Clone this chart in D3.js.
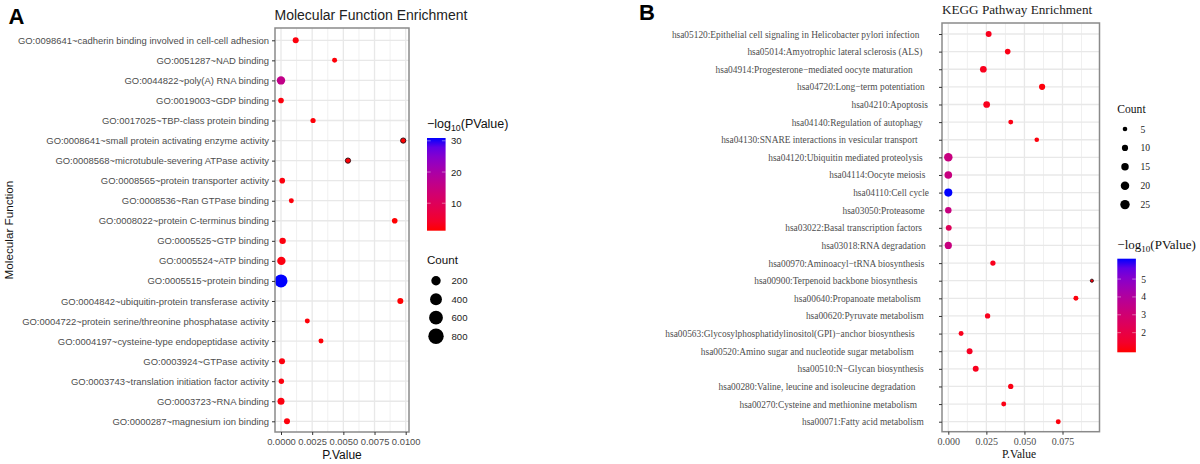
<!DOCTYPE html>
<html>
<head>
<meta charset="utf-8">
<script src="https://cdn.jsdelivr.net/npm/d3@7"></script>
<style>
  body { margin: 0; background: #fff; }
  svg { display: block; }
</style>
</head>
<body>
<div id="chart"></div>
<script>
// panel A: GO molecular function
var goTerms = [
  "GO:0098641~cadherin binding involved in cell-cell adhesion",
  "GO:0051287~NAD binding",
  "GO:0044822~poly(A) RNA binding",
  "GO:0019003~GDP binding",
  "GO:0017025~TBP-class protein binding",
  "GO:0008641~small protein activating enzyme activity",
  "GO:0008568~microtubule-severing ATPase activity",
  "GO:0008565~protein transporter activity",
  "GO:0008536~Ran GTPase binding",
  "GO:0008022~protein C-terminus binding",
  "GO:0005525~GTP binding",
  "GO:0005524~ATP binding",
  "GO:0005515~protein binding",
  "GO:0004842~ubiquitin-protein transferase activity",
  "GO:0004722~protein serine/threonine phosphatase activity",
  "GO:0004197~cysteine-type endopeptidase activity",
  "GO:0003924~GTPase activity",
  "GO:0003743~translation initiation factor activity",
  "GO:0003723~RNA binding",
  "GO:0000287~magnesium ion binding"
];
var goPValue = [0.00118, 0.0043, 0, 0, 0.00257, 0.0098, 0.00537, 0.0001, 0.00083, 0.00912,
                0.00013, 0.00003, 0, 0.00957, 0.00211, 0.00321, 0.00008, 0.00003, 0, 0.00048];
var goCount = [38, 14, 139, 27, 18, 20, 20, 27, 14, 27,
               50, 139, 512, 38, 14, 14, 38, 22, 72, 38];
var goLogP = [1.8, 1.6, 16, 1.9, 1.6, 1.3, 1.5, 1.9, 1.7, 1.3,
              1.9, 2, 30.9, 1.3, 1.6, 1.6, 1.9, 1.9, 2, 1.7];
var goTicks = [0, 0.0025, 0.005, 0.0075, 0.01];
var goColorTicks = [10, 20, 30];
var goSizeTicks = [200, 400, 600, 800];

// panel B: KEGG pathways
var keggTerms = [
  "hsa05120:Epithelial cell signaling in Helicobacter pylori infection",
  "hsa05014:Amyotrophic lateral sclerosis (ALS)",
  "hsa04914:Progesterone\u2212mediated oocyte maturation",
  "hsa04720:Long\u2212term potentiation",
  "hsa04210:Apoptosis",
  "hsa04140:Regulation of autophagy",
  "hsa04130:SNARE interactions in vesicular transport",
  "hsa04120:Ubiquitin mediated proteolysis",
  "hsa04114:Oocyte meiosis",
  "hsa04110:Cell cycle",
  "hsa03050:Proteasome",
  "hsa03022:Basal transcription factors",
  "hsa03018:RNA degradation",
  "hsa00970:Aminoacyl\u2212tRNA biosynthesis",
  "hsa00900:Terpenoid backbone biosynthesis",
  "hsa00640:Propanoate metabolism",
  "hsa00620:Pyruvate metabolism",
  "hsa00563:Glycosylphosphatidylinositol(GPI)\u2212anchor biosynthesis",
  "hsa00520:Amino sugar and nucleotide sugar metabolism",
  "hsa00510:N\u2212Glycan biosynthesis",
  "hsa00280:Valine, leucine and isoleucine degradation",
  "hsa00270:Cysteine and methionine metabolism",
  "hsa00071:Fatty acid metabolism"
];
var keggPValue = [0.0265, 0.039, 0.023, 0.0616, 0.0252, 0.041, 0.0581, 0, 0, 0,
                  0, 0.0003, 0, 0.0293, 0.0943, 0.0838, 0.0258, 0.0084, 0.014, 0.018,
                  0.041, 0.0364, 0.0722];
var keggCount = [9, 8, 12, 10, 12, 6, 5, 20, 16, 18,
                 11, 9, 14, 7, 2, 6, 7, 6, 9, 9,
                 7, 6, 6];
var keggLogP = [1.2, 1.1, 1.2, 1, 1.2, 1.1, 1, 3.3, 3.3, 6.14,
                3.3, 2.4, 3.3, 1.2, 1, 1, 1.2, 1.2, 1.3, 1.2,
                1.1, 1.1, 1];
var keggTicks = [0, 0.025, 0.05, 0.075];
var keggColorTicks = [2, 3, 4, 5];
var keggSizeTicks = [5, 10, 15, 20, 25];

var width = 1200, height = 464;
var svg = d3.select("#chart").append("svg").attr("width", width).attr("height", height);

var lab = d3.interpolateLab("#ff0000", "#0000ff");

// where each KEGG label ends, the reference labels are not flush with the axis
var keggLabelEnd = [919.3, 922.3, 912.7, 924.7, 928, 922.7, 917.7, 922.7, 925.3, 929, 924.7, 922,
                    925.7, 924.3, 917.3, 920.7, 923.7, 914.7, 913.7, 923.7, 915.3, 917, 923.7];

function dotPanel(cfg) {
  var x = d3.scaleLinear().domain(cfg.xDomain).range([cfg.x0, cfg.x1]);
  var y = d3.scalePoint().domain(cfg.terms).range([cfg.yFirst, cfg.yLast]);
  var g = svg.append("g");

  var minor = [];
  for (var i = 0; i < cfg.ticks.length; i++) {
    minor.push(cfg.ticks[i] + (cfg.ticks[1] - cfg.ticks[0]) / 2);
  }
  g.selectAll(".minor").data(minor.filter(function(d) { return x(d) < cfg.right; })).enter().append("line")
    .attr("x1", x).attr("x2", x).attr("y1", cfg.top).attr("y2", cfg.bottom)
    .attr("stroke", "#f0f0f0").attr("stroke-width", 1);
  g.selectAll(".vmajor").data(cfg.ticks).enter().append("line")
    .attr("x1", x).attr("x2", x).attr("y1", cfg.top).attr("y2", cfg.bottom)
    .attr("stroke", "#e8e8e8").attr("stroke-width", 1.3);
  g.selectAll(".hmajor").data(cfg.terms).enter().append("line")
    .attr("x1", cfg.left).attr("x2", cfg.right).attr("y1", y).attr("y2", y)
    .attr("stroke", "#e8e8e8").attr("stroke-width", 1.3);

  var pts = cfg.terms.map(function(t, i) {
    return {term: t, p: cfg.p[i], count: cfg.count[i], logp: cfg.logp[i]};
  });
  g.selectAll(".dot").data(pts).enter().append("circle")
    .attr("cx", function(d) { return x(d.p); })
    .attr("cy", function(d) { return y(d.term); })
    .attr("r", function(d) { return cfg.size(d.count); })
    .attr("fill", function(d) { return cfg.color(d.logp); })
    .attr("stroke", function(d) { return cfg.darkRing(d) ? "#2a1014" : "none"; })
    .attr("stroke-width", 0.9);

  g.append("rect")
    .attr("x", cfg.left).attr("y", cfg.top)
    .attr("width", cfg.right - cfg.left).attr("height", cfg.bottom - cfg.top)
    .attr("fill", "none").attr("stroke", "#8a8a8a").attr("stroke-width", 1.5);

  var yAxis = g.append("g").attr("transform", "translate(" + cfg.left + ",0)")
    .call(d3.axisLeft(y).tickSize(3).tickPadding(cfg.yPad));
  yAxis.select(".domain").remove();
  yAxis.selectAll("line").attr("stroke", "#333");
  yAxis.selectAll("text")
    .attr("font-family", cfg.font).attr("font-size", cfg.labelSize).attr("fill", "#4d4d4d");
  if (cfg.labelEnd) {
    yAxis.selectAll("text").attr("x", function(d, i) { return cfg.labelEnd[i] - cfg.left; });
  }

  var xAxis = g.append("g").attr("transform", "translate(0," + cfg.bottom + ")")
    .call(d3.axisBottom(x).tickValues(cfg.ticks).tickFormat(d3.format(cfg.tickFormat)).tickSize(3).tickPadding(3));
  xAxis.select(".domain").remove();
  xAxis.selectAll("line").attr("stroke", "#333");
  xAxis.selectAll("text")
    .attr("font-family", cfg.font).attr("font-size", cfg.tickSize).attr("fill", "#4d4d4d");

  svg.append("text").attr("x", cfg.titleX).attr("y", cfg.titleY)
    .attr("font-family", cfg.font).attr("font-size", cfg.titleSize).attr("fill", "#222")
    .text(cfg.title);
  svg.append("text").attr("x", cfg.xTitleX).attr("y", cfg.xTitleY).attr("text-anchor", "middle")
    .attr("font-family", cfg.font).attr("font-size", cfg.xTitleSize).attr("fill", "#111")
    .text("P.Value");
}

function colorBar(id, bx, by0, by1, font, domain, ticks) {
  var c = d3.scaleLinear().domain(domain).range([by1, by0]);
  var color = function(v) { return lab((v - domain[0]) / (domain[1] - domain[0])); };
  var grad = svg.append("defs").append("linearGradient").attr("id", id)
    .attr("x1", 0).attr("x2", 0).attr("y1", 1).attr("y2", 0);
  d3.range(0, 1.01, 0.1).forEach(function(t) {
    grad.append("stop").attr("offset", t).attr("stop-color", lab(t));
  });
  svg.append("rect").attr("x", bx).attr("y", by0).attr("width", 18.6).attr("height", by1 - by0)
    .attr("fill", "url(#" + id + ")");
  ticks.forEach(function(t) {
    svg.append("line").attr("x1", bx).attr("x2", bx + 3.7).attr("y1", c(t)).attr("y2", c(t))
      .attr("stroke", "#fff").attr("stroke-opacity", 0.7).attr("stroke-width", 0.6);
    svg.append("line").attr("x1", bx + 14.9).attr("x2", bx + 18.6).attr("y1", c(t)).attr("y2", c(t))
      .attr("stroke", "#fff").attr("stroke-opacity", 0.7).attr("stroke-width", 0.6);
    svg.append("text").attr("x", bx + 24).attr("y", c(t) + 3.5)
      .attr("font-family", font).attr("font-size", 9.6).attr("fill", "#222").text(t);
  });
  return color;
}

function logTitle(tx, ty, font, size) {
  var t = svg.append("text").attr("x", tx).attr("y", ty)
    .attr("font-family", font).attr("font-size", size).attr("fill", "#111");
  t.append("tspan").text("\u2212log");
  t.append("tspan").attr("font-size", size * 0.7).attr("dy", 3).text("10");
  t.append("tspan").attr("dy", -3).text("(PValue)");
}

function sizeLegend(title, tx, ty, cx, ys, font, ticks, size) {
  svg.append("text").attr("x", tx).attr("y", ty)
    .attr("font-family", font).attr("font-size", 11.6).attr("fill", "#111").text(title);
  ticks.forEach(function(t, i) {
    svg.append("circle").attr("cx", cx).attr("cy", ys(i)).attr("r", size(t)).attr("fill", "#000");
    svg.append("text").attr("x", cx + 15.5).attr("y", ys(i) + 3.5)
      .attr("font-family", font).attr("font-size", 9.6).attr("fill", "#222").text(t);
  });
}

var sans = "'Liberation Sans', Arial, sans-serif";
var serif = "'Liberation Serif', 'Times New Roman', serif";

svg.append("text").attr("x", 8.5).attr("y", 24).attr("font-family", sans).attr("font-weight", "bold")
  .attr("font-size", 22).attr("fill", "#000").text("A");
svg.append("text").attr("x", 639).attr("y", 20).attr("font-family", sans).attr("font-weight", "bold")
  .attr("font-size", 22).attr("fill", "#000").text("B");
svg.append("text").attr("transform", "translate(13,230) rotate(-90)").attr("text-anchor", "middle")
  .attr("font-family", sans).attr("font-size", 11.7).attr("fill", "#111").text("Molecular Function");

var goSize = d3.scaleSqrt().domain([0, 800]).range([1.7, 7.7]);
var keggSize = d3.scaleSqrt().domain([0, 25]).range([0.35, 4.7]);

var goColor = colorBar("gradA", 427, 138, 230.7, sans, [1.2, 30.9], goColorTicks);
var keggColor = colorBar("gradB", 1117.3, 258.7, 352.3, serif, [0.9, 6.14], keggColorTicks);

dotPanel({
  terms: goTerms, p: goPValue, count: goCount, logp: goLogP,
  size: goSize, color: goColor, font: sans,
  darkRing: function(d) { return d.p > 0.005 && d.p < 0.0055 || d.p > 0.0097; },
  xDomain: [0, 0.01], x0: 281, x1: 405.7, ticks: goTicks, tickFormat: ".4f", tickSize: 9.4,
  left: 275, right: 409, top: 28, bottom: 432, yFirst: 40.3, yLast: 421.3,
  yPad: 3, labelSize: 9.45,
  title: "Molecular Function Enrichment", titleX: 274.5, titleY: 19.5, titleSize: 14,
  xTitleX: 342, xTitleY: 459, xTitleSize: 12
});

dotPanel({
  terms: keggTerms, p: keggPValue, count: keggCount, logp: keggLogP,
  size: keggSize, color: keggColor, font: serif,
  darkRing: function(d) { return d.p > 0.09; },
  xDomain: [0, 0.075], x0: 948.3, x1: 1062.5, ticks: keggTicks, tickFormat: ".3f", tickSize: 10,
  left: 942, right: 1099.5, top: 23, bottom: 431.7, yFirst: 34, yLast: 421.7,
  yPad: 3, labelSize: 9.37, labelEnd: keggLabelEnd,
  title: "KEGG Pathway Enrichment", titleX: 942, titleY: 14, titleSize: 13.2,
  xTitleX: 1019, xTitleY: 458, xTitleSize: 11.5
});

logTitle(427, 128, sans, 12.5);
sizeLegend("Count", 427, 264, 436, function(i) { return 280.7 + i * 18.5; }, sans, goSizeTicks, goSize);

sizeLegend("Count", 1117.3, 113, 1125, function(i) { return 129 + i * 18.9; }, serif, keggSizeTicks, keggSize);
logTitle(1117.3, 249, serif, 13);
</script>
</body>
</html>
